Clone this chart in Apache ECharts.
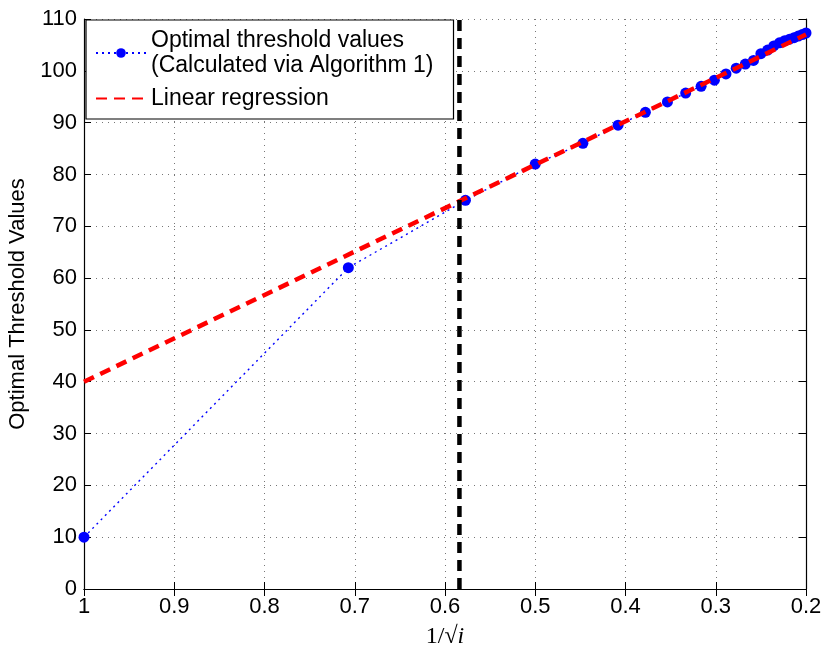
<!DOCTYPE html>
<html><head><meta charset="utf-8">
<script src="https://cdn.jsdelivr.net/npm/echarts@6/dist/echarts.min.js"></script>
<style>html,body{margin:0;padding:0;background:#fff}#c{width:827px;height:650px}</style>
</head><body><div id="c"></div>
<script>
var iterIdx = [1,2,3,4,5,6,7,8,9,10,11,12,13,14,15,16,17,18,19,20,21,22,23,24,25];
var thresholds = [10,62,75,82,86,89.5,92,94,95.7,97,98.2,99.4,100.5,101.3,102,103.3,104,104.8,105.4,105.8,106.1,106.4,106.7,107,107.3];
var regX = [1, 0.2];
var regY = [40, 107];
var vlineX = 0.584;
var vlineY = [0, 110];
var xTicks = {min: 0.2, max: 1, interval: 0.1};
var yTicks = {min: 0, max: 110, interval: 10};

var optData = iterIdx.map(function(i, k){ return [1/Math.sqrt(i), thresholds[k]]; });
var regData = regX.map(function(x, k){ return [x, regY[k]]; });
var vData = vlineY.map(function(y){ return [vlineX, y]; });

var font = 'Liberation Sans';
var chart = echarts.init(document.getElementById('c'), null, {renderer:'canvas'});
var axisLine = {show:true, lineStyle:{color:'#000', width:1.2}};
var split = {show:true, lineStyle:{color:'#777', type:[1,5], width:1}};
var tick = {show:true, inside:true, length:7, lineStyle:{color:'#000'}};
chart.setOption({
  animation:false,
  backgroundColor:'#fff',
  grid:{left:84, right:21, top:19, bottom:61, containLabel:false, outerBoundsMode:'none'},
  legend:{
    show:true, left:86, top:20, orient:'vertical',
    backgroundColor:'#fff', borderColor:'#000', borderWidth:1.2,
    padding:[8,20,8,9], itemGap:8, itemWidth:50, itemHeight:12,
    textStyle:{fontFamily:font, fontSize:23, color:'#000', lineHeight:25},
    data:[
      {name:'Optimal threshold values\n(Calculated via Algorithm 1)', icon:'inherit'},
      {name:'Linear regression', icon:'inherit', itemStyle:{opacity:0}}
    ]
  },
  xAxis:[{
    type:'value', inverse:true, min:xTicks.min, max:xTicks.max, interval:xTicks.interval,
    name:'1/\u221A{i|i}', nameLocation:'middle', nameGap:36,
    nameTextStyle:{fontFamily:'Liberation Serif', fontSize:24, color:'#000',
      rich:{i:{fontFamily:'Liberation Serif', fontSize:24, fontStyle:'italic', color:'#000'}}},
    axisLine:axisLine, axisTick:tick,
    axisLabel:{fontFamily:font, fontSize:22, color:'#000', margin:7, formatter:function(v){return String(+v.toFixed(1));}},
    splitLine:split
  },{
    type:'value', inverse:true, position:'top', min:xTicks.min, max:xTicks.max, interval:xTicks.interval,
    axisLine:axisLine, axisTick:tick,
    axisLabel:{show:false}, splitLine:{show:false}
  }],
  yAxis:[{
    type:'value', min:yTicks.min, max:yTicks.max, interval:yTicks.interval,
    name:'Optimal Threshold Values', nameLocation:'middle', nameGap:52,
    nameTextStyle:{fontFamily:font, fontSize:22, color:'#000'},
    axisLine:axisLine, axisTick:tick,
    axisLabel:{fontFamily:font, fontSize:22, color:'#000', margin:7},
    splitLine:split
  },{
    type:'value', position:'right', min:yTicks.min, max:yTicks.max, interval:yTicks.interval,
    axisLine:axisLine, axisTick:tick,
    axisLabel:{show:false}, splitLine:{show:false}
  }],
  series:[{
    name:'Optimal threshold values\n(Calculated via Algorithm 1)', type:'line', data:optData,
    symbol:'circle', symbolSize:11, showSymbol:true,
    itemStyle:{color:'#0000ff'}, lineStyle:{color:'#0000ff', width:1.4, type:[2,4]}, z:2
  },{
    name:'Linear regression', type:'line', data:regData, symbol:'none',
    itemStyle:{color:'#ff0000'}, lineStyle:{color:'#ff0000', width:4.5, type:[11,7]}, z:3
  },{
    name:'vline', type:'line', data:vData, symbol:'none',
    lineStyle:{color:'#000', width:4.5, type:[11,7]}, z:4
  }]
});
</script></body></html>
